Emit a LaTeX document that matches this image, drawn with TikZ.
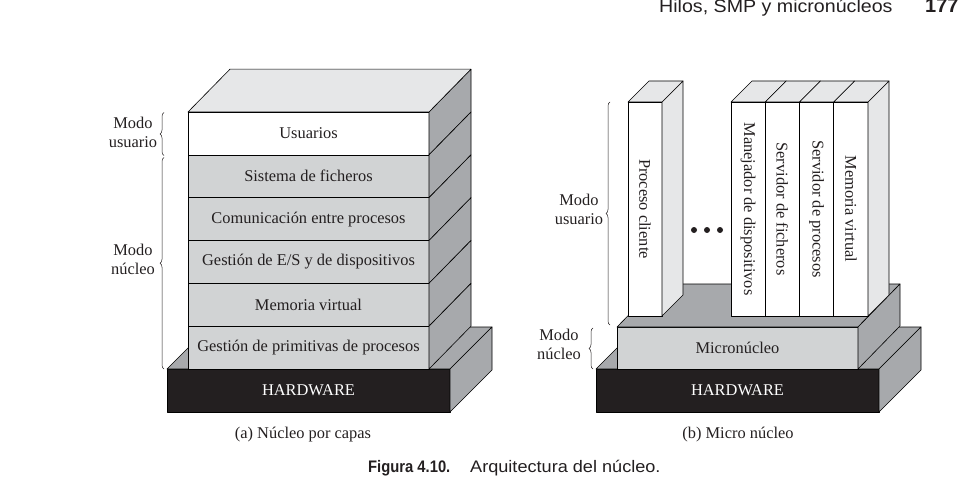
\documentclass[tikz,border=0pt]{standalone}
\usepackage{fontspec}
\setmainfont{Liberation Serif}
\newfontfamily\capfont{Liberation Sans}
\usetikzlibrary{decorations.pathreplacing}
\definecolor{topgray}{RGB}{230,231,232}
\definecolor{sidegray}{RGB}{167,169,172}
\definecolor{layergray}{RGB}{209,211,212}
\definecolor{hwblack}{RGB}{35,31,32}
\definecolor{ink}{RGB}{35,31,32}
\newcommand\lblfont{\fontsize{16.4}{19}\selectfont}
\begin{document}
\begin{tikzpicture}[x=1pt,y=-1pt,line join=round,
  face/.style={draw=black,line width=0.6pt},
  boxnode/.style={face,inner sep=0pt,outer sep=0pt,align=center,font=\lblfont,text=ink},
  lbl/.style={inner sep=0pt,align=center,font=\lblfont,text=ink},
  vlbl/.style={lbl,rotate=-90},
  brc/.style={decorate,decoration={brace,amplitude=4pt},line width=0.5pt,draw=ink},
]
\useasboundingbox (0,0) rectangle (978,503);

% ---------------- header ----------------
\node[anchor=base west,inner sep=0pt,text=ink,font=\capfont\fontsize{18}{20}\selectfont] (hdr) at (659,12.5) {\scalebox{1.09}[1]{Hilos, SMP y micronúcleos}};
\node[anchor=base west,inner sep=0pt,text=ink,font=\capfont\bfseries\fontsize{20}{22}\selectfont] (pg) at (925,12.5) {177};

% ---------------- (a) layered kernel ----------------
\node[boxnode,fill=hwblack,text=white,minimum width=283pt,minimum height=43pt] (hwA) at (308.5,390.5) {HARDWARE};
\draw[face,fill=sidegray] (hwA.north west) -- ++(42,-42) -- ++(283,0) -- (hwA.north east) -- cycle;
\draw[face,fill=sidegray] (hwA.north east) -- ++(42,-42) -- ++(0,43) -- (hwA.south east) -- cycle;

\node[boxnode,fill=white,minimum width=241pt,minimum height=42.83pt] (L0) at (308.5,133.4) {Usuarios};
\node[boxnode,fill=layergray,minimum width=241pt,minimum height=42.83pt] (L1) at (308.5,176.25) {Sistema de ficheros};
\node[boxnode,fill=layergray,minimum width=241pt,minimum height=42.83pt] (L2) at (308.5,219.1) {Comunicación entre procesos};
\node[boxnode,fill=layergray,minimum width=241pt,minimum height=42.83pt] (L3) at (308.5,261.9) {Gestión de E/S y de dispositivos};
\node[boxnode,fill=layergray,minimum width=241pt,minimum height=42.83pt] (L4) at (308.5,304.75) {Memoria virtual};
\node[boxnode,fill=layergray,minimum width=241pt,minimum height=42.83pt] (L5) at (308.5,347.6) {Gestión de primitivas de procesos};
\foreach \n in {L0,L1,L2,L3,L4,L5}
  \draw[face,fill=sidegray] (\n.north east) -- ++(42,-42.83) -- ++(0,42.83) -- (\n.south east) -- cycle;
\draw[face,fill=topgray] (L0.north west) -- ++(42,-42.83) -- ++(241,0) -- (L0.north east) -- cycle;

\coordinate (bAu1) at (164,155.5);
\coordinate (bAu2) at (164,112.5);
\coordinate (bAn1) at (164,369);
\coordinate (bAn2) at (164,157.5);
\draw[brc] (bAu1) -- (bAu2);
\draw[brc] (bAn1) -- (bAn2);
\node[lbl] (mAu) at (133,132.5) {Modo\\usuario};
\node[lbl] (mAn) at (133,259) {Modo\\núcleo};

\node[lbl,anchor=base] (capA) at (303,438) {(a) Núcleo por capas};

% ---------------- (b) microkernel ----------------
\node[boxnode,fill=hwblack,text=white,minimum width=283pt,minimum height=43pt] (hwB) at (737.5,390.5) {HARDWARE};
\draw[face,fill=sidegray] (hwB.north west) -- ++(42,-42) -- ++(283,0) -- (hwB.north east) -- cycle;
\draw[face,fill=sidegray] (hwB.north east) -- ++(42,-42) -- ++(0,43) -- (hwB.south east) -- cycle;

\node[boxnode,fill=layergray,minimum width=241pt,minimum height=42pt] (mk) at (737.5,348) {Micronúcleo};
\draw[face,fill=sidegray] (mk.north west) -- ++(42,-43) -- ++(241,0) -- (mk.north east) -- cycle;
\draw[face,fill=sidegray] (mk.north east) -- ++(42,-43) -- ++(0,42) -- (mk.south east) -- cycle;

% client process column
\node[boxnode,fill=white,minimum width=34pt,minimum height=214pt] (pc) at (645,209) {};
\draw[face,fill=topgray] (pc.north east) -- ++(21,-21) -- ++(0,214) -- (pc.south east) -- cycle;
\draw[face,fill=topgray] (pc.north west) -- ++(21,-21) -- ++(34,0) -- (pc.north east) -- cycle;
\node[vlbl] (pct) at (pc.center) {Proceso cliente};

% server columns
\node[boxnode,fill=white,minimum width=34.25pt,minimum height=214pt] (c1) at (748.125,209) {};
\node[boxnode,fill=white,minimum width=34.25pt,minimum height=214pt] (c2) at (782.375,209) {};
\node[boxnode,fill=white,minimum width=34.25pt,minimum height=214pt] (c3) at (816.625,209) {};
\node[boxnode,fill=white,minimum width=34.25pt,minimum height=214pt] (c4) at (850.875,209) {};
\draw[face,fill=topgray] (c4.north east) -- ++(21,-21) -- ++(0,214) -- (c4.south east) -- cycle;
\foreach \n in {c1,c2,c3,c4}
  \draw[face,fill=topgray] (\n.north west) -- ++(21,-21) -- ++(34.25,0) -- (\n.north east) -- cycle;
\node[vlbl] (c1t) at (c1.center) {Manejador de dispositivos};
\node[vlbl] (c2t) at (c2.center) {Servidor de ficheros};
\node[vlbl] (c3t) at (c3.center) {Servidor de procesos};
\node[vlbl] (c4t) at (c4.center) {Memoria virtual};

% ellipsis
\fill[ink] (694,230) circle[radius=3pt];
\fill[ink] (707,230) circle[radius=3pt];
\fill[ink] (720,230) circle[radius=3pt];

\coordinate (bBu1) at (610,325);
\coordinate (bBu2) at (610,102);
\coordinate (bBn1) at (593,369);
\coordinate (bBn2) at (593,328);
\draw[brc] (bBu1) -- (bBu2);
\draw[brc] (bBn1) -- (bBn2);
\node[lbl] (mBu) at (579,209) {Modo\\usuario};
\node[lbl] (mBn) at (559,344) {Modo\\núcleo};

\node[lbl,anchor=base] (capB) at (738,438) {(b) Micro núcleo};

% ---------------- figure caption ----------------
\node[anchor=base west,inner sep=0pt,text=ink,font=\capfont\bfseries\fontsize{16.7}{20}\selectfont] (fig) at (368,472) {\scalebox{0.885}[1]{Figura 4.10.}};
\node[anchor=base west,inner sep=0pt,text=ink,font=\capfont\fontsize{16.7}{20}\selectfont] (arq) at (470,472) {\scalebox{1.085}[1]{Arquitectura del núcleo.}};
\end{tikzpicture}
\end{document}
